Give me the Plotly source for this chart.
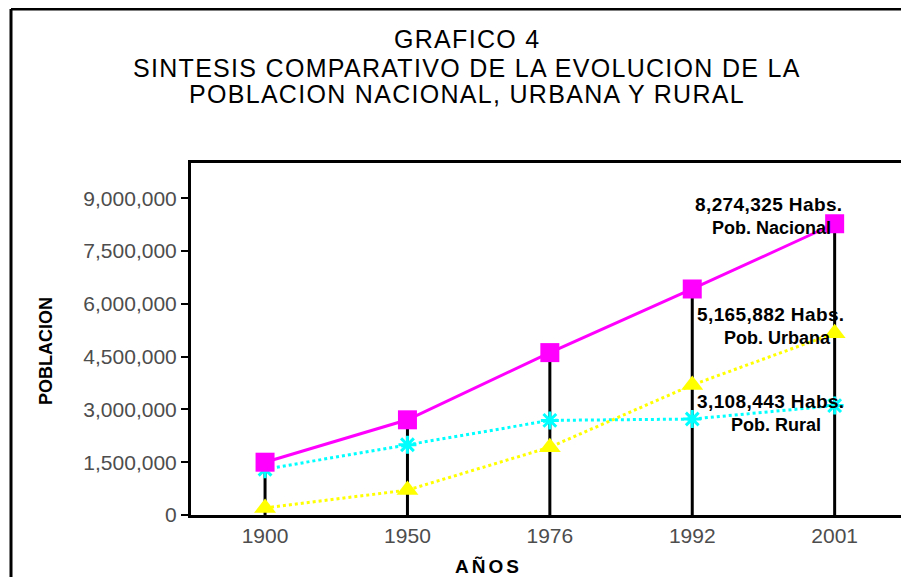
import plotly.graph_objects as go

# ---- data ----
YEARS = ["1900", "1950", "1976", "1992", "2001"]
NACIONAL = [1500000, 2704165, 4613486, 6420792, 8274325]
URBANA = [200000, 708568, 1925840, 3694846, 5165882]
RURAL = [1300000, 1995597, 2687646, 2725946, 3108443]

Y_TICKS = [0, 1500000, 3000000, 4500000, 6000000, 7500000, 9000000]
Y_TICK_LABELS = ["0", "1,500,000", "3,000,000", "4,500,000", "6,000,000", "7,500,000", "9,000,000"]

TITLE_LINES = ["GRAFICO 4",
               "SINTESIS COMPARATIVO DE LA EVOLUCION DE LA",
               "POBLACION NACIONAL, URBANA Y RURAL"]
X_TITLE = "AÑOS"
Y_TITLE = "POBLACION"
SERIES_NAMES = ["Pob. Nacional", "Pob. Urbana", "Pob. Rural"]

FONT = "Arial, 'Liberation Sans', sans-serif"

fig = go.Figure()

# vertical drop lines from 0 to national value
dx, dy = [], []
for yr, v in zip(YEARS, NACIONAL):
    dx += [yr, yr, None]
    dy += [0, v, None]
fig.add_trace(go.Scatter(x=dx, y=dy, mode="lines",
                         line=dict(color="black", width=3),
                         hoverinfo="skip", showlegend=False))

fig.add_trace(go.Scatter(x=YEARS, y=RURAL, mode="lines+markers", name=SERIES_NAMES[2],
                         line=dict(color="#00FFFF", width=3, dash="dot"),
                         marker=dict(symbol="asterisk-open", size=15, color="#00FFFF",
                                     line=dict(color="#00FFFF", width=3))))
fig.add_trace(go.Scatter(x=YEARS, y=URBANA, mode="lines+markers", name=SERIES_NAMES[1],
                         line=dict(color="#FFFF00", width=3, dash="dot"),
                         marker=dict(symbol="triangle-up", size=19, color="#FFFF00")))
fig.add_trace(go.Scatter(x=YEARS, y=NACIONAL, mode="lines+markers", name=SERIES_NAMES[0],
                         line=dict(color="#FF00FF", width=3),
                         marker=dict(symbol="square", size=19, color="#FF00FF")))

annotations = []
# title lines
for txt, yp in zip(TITLE_LINES, [1.352, 1.270, 1.196]):
    annotations.append(dict(text='<span style="letter-spacing:1.3px">' + txt + '</span>',
                            xref="paper", yref="paper", x=0.3876, y=yp,
                            xanchor="center", yanchor="middle", showarrow=False,
                            font=dict(family=FONT, size=25, color="black")))
# axis titles
annotations.append(dict(text="<b>" + Y_TITLE + "</b>", xref="paper", yref="paper",
                        x=-0.2037, y=0.466, textangle=-90, showarrow=False,
                        xanchor="center", yanchor="middle",
                        font=dict(family=FONT, size=18, color="black")))
annotations.append(dict(text='<b><span style="letter-spacing:3px">' + X_TITLE + '</span></b>',
                        xref="paper", yref="paper", x=0.4185, y=-0.145, showarrow=False,
                        xanchor="center", yanchor="middle",
                        font=dict(family=FONT, size=19, color="black")))

# end labels (x given as category index of the last year)
last_idx = len(YEARS) - 1
label_specs = [
    (NACIONAL[-1], SERIES_NAMES[0], 19.5, -4.3, 10, -2),
    (URBANA[-1], SERIES_NAMES[1], 18.2, -4.8, 12, -2),
    (RURAL[-1], SERIES_NAMES[2], 4.0, -19.4, 12, -12),
]
for val, name, ys1, ys2, xs1, xs2 in label_specs:
    annotations.append(dict(text='<b><span style="letter-spacing:0.4px">{:,} Habs.</span></b>'.format(val),
                            xref="x", yref="y",
                            x=last_idx, y=val, xanchor="right", yanchor="middle",
                            xshift=xs1, yshift=ys1, showarrow=False,
                            font=dict(family=FONT, size=19, color="black")))
    annotations.append(dict(text="<b>" + name + "</b>", xref="x", yref="y",
                            x=last_idx, y=val, xanchor="right", yanchor="middle",
                            xshift=xs2, yshift=ys2, showarrow=False,
                            font=dict(family=FONT, size=18, color="black")))

shapes = [
    dict(type="line", xref="paper", yref="paper", x0=-0.2528, x1=-0.2528, y0=-0.25, y1=1.4375,
         line=dict(color="black", width=3)),
    dict(type="line", xref="paper", yref="paper", x0=-0.2528, x1=1.05, y0=1.4375, y1=1.4375,
         line=dict(color="black", width=3)),
]

fig.update_layout(
    width=909, height=577,
    margin=dict(l=183, r=14, t=155, b=70),
    paper_bgcolor="white", plot_bgcolor="white",
    showlegend=False,
    annotations=annotations,
    shapes=shapes,
    xaxis=dict(type="category", range=[-0.52, 4.48], showline=True, linecolor="black",
               linewidth=3, mirror=True, ticks="", showgrid=False, zeroline=False,
               ticklabelstandoff=0,
               tickfont=dict(family=FONT, size=21, color="#4d4d4d")),
    yaxis=dict(range=[0, 10000000], tickvals=Y_TICKS, ticktext=Y_TICK_LABELS,
               showline=True, linecolor="black", linewidth=3, mirror=True,
               ticks="outside", ticklen=7, tickwidth=2, tickcolor="black",
               showgrid=False, zeroline=False, ticklabelstandoff=0,
               tickfont=dict(family=FONT, size=21, color="#4d4d4d")),
)

fig.write_html("out.html")
